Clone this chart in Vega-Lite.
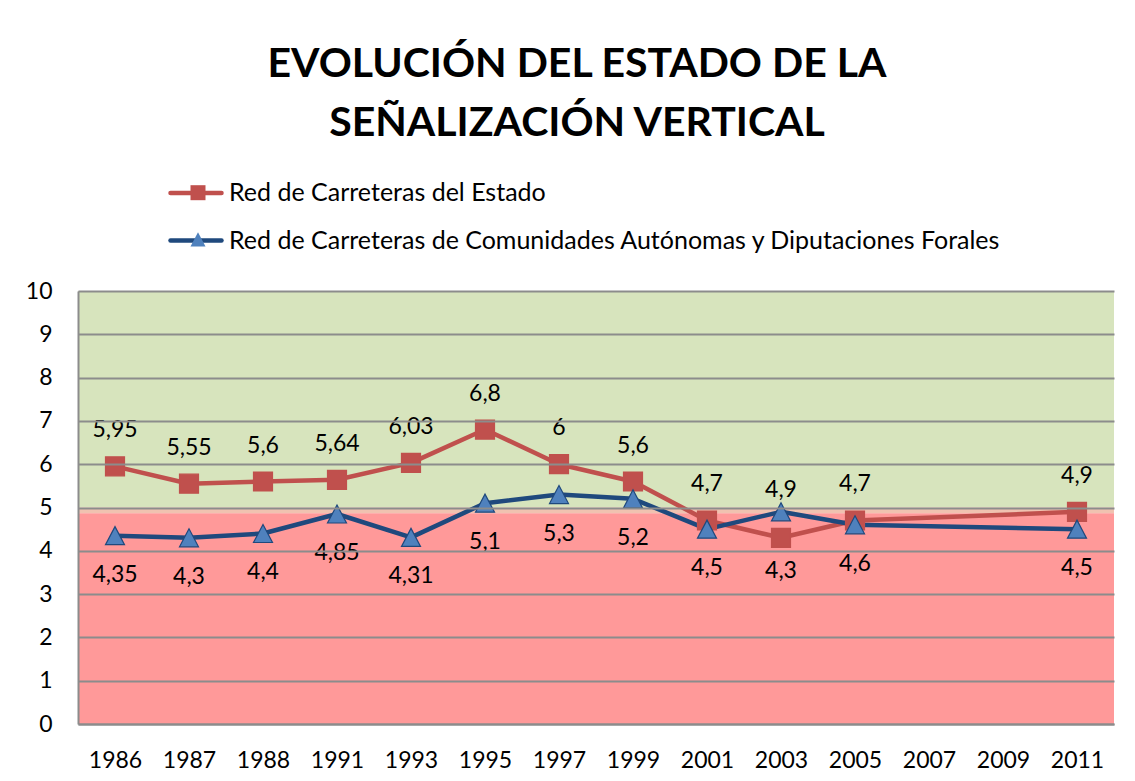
{
  "$schema": "https://vega.github.io/schema/vega-lite/v6.json",
  "autosize": "none",
  "width": 1036,
  "height": 433,
  "padding": {"left": 78, "top": 291, "right": 21, "bottom": 57},
  "background": "#ffffff",
  "config": {
    "font": "Lato",
    "view": {"stroke": null},
    "locale": {"number": {"decimal": ",", "thousands": ".", "grouping": [3], "currency": ["", " €"]}}
  },
  "title": {
    "text": ["EVOLUCIÓN DEL ESTADO DE LA", "SEÑALIZACIÓN VERTICAL"],
    "font": "Lato",
    "fontSize": 41,
    "fontWeight": "bold",
    "color": "#000000",
    "anchor": "middle",
    "frame": "group",
    "lineHeight": 59,
    "offset": 20,
    "dx": -19
  },
  "datasets": {
    "franjas": [
      {"desde": 5, "hasta": 10, "franja": "Aprobado"},
      {"desde": 4.87, "hasta": 5, "franja": "Límite"},
      {"desde": 0, "hasta": 4.87, "franja": "Suspenso"}
    ],
    "valores": [
      {"anio": "1986", "serie": "Red de Carreteras del Estado", "valor": 5.95},
      {"anio": "1987", "serie": "Red de Carreteras del Estado", "valor": 5.55},
      {"anio": "1988", "serie": "Red de Carreteras del Estado", "valor": 5.6},
      {"anio": "1991", "serie": "Red de Carreteras del Estado", "valor": 5.64},
      {"anio": "1993", "serie": "Red de Carreteras del Estado", "valor": 6.03},
      {"anio": "1995", "serie": "Red de Carreteras del Estado", "valor": 6.8},
      {"anio": "1997", "serie": "Red de Carreteras del Estado", "valor": 6},
      {"anio": "1999", "serie": "Red de Carreteras del Estado", "valor": 5.6},
      {"anio": "2001", "serie": "Red de Carreteras del Estado", "valor": 4.7},
      {"anio": "2003", "serie": "Red de Carreteras del Estado", "valor": 4.3},
      {"anio": "2005", "serie": "Red de Carreteras del Estado", "valor": 4.7},
      {"anio": "2011", "serie": "Red de Carreteras del Estado", "valor": 4.9},
      {"anio": "1986", "serie": "Red de Carreteras de Comunidades Autónomas y Diputaciones Forales", "valor": 4.35},
      {"anio": "1987", "serie": "Red de Carreteras de Comunidades Autónomas y Diputaciones Forales", "valor": 4.3},
      {"anio": "1988", "serie": "Red de Carreteras de Comunidades Autónomas y Diputaciones Forales", "valor": 4.4},
      {"anio": "1991", "serie": "Red de Carreteras de Comunidades Autónomas y Diputaciones Forales", "valor": 4.85},
      {"anio": "1993", "serie": "Red de Carreteras de Comunidades Autónomas y Diputaciones Forales", "valor": 4.31},
      {"anio": "1995", "serie": "Red de Carreteras de Comunidades Autónomas y Diputaciones Forales", "valor": 5.1},
      {"anio": "1997", "serie": "Red de Carreteras de Comunidades Autónomas y Diputaciones Forales", "valor": 5.3},
      {"anio": "1999", "serie": "Red de Carreteras de Comunidades Autónomas y Diputaciones Forales", "valor": 5.2},
      {"anio": "2001", "serie": "Red de Carreteras de Comunidades Autónomas y Diputaciones Forales", "valor": 4.5},
      {"anio": "2003", "serie": "Red de Carreteras de Comunidades Autónomas y Diputaciones Forales", "valor": 4.9},
      {"anio": "2005", "serie": "Red de Carreteras de Comunidades Autónomas y Diputaciones Forales", "valor": 4.6},
      {"anio": "2011", "serie": "Red de Carreteras de Comunidades Autónomas y Diputaciones Forales", "valor": 4.5}
    ]
  },
  "layer": [
    {
      "data": {"name": "franjas"},
      "mark": {"type": "rect"},
      "encoding": {
        "y": {
          "field": "desde", "type": "quantitative",
          "scale": {"domain": [0, 10], "nice": false, "zero": true},
          "axis": {
            "title": null, "values": [0, 1, 2, 3, 4, 5, 6, 7, 8, 9, 10],
            "grid": true, "gridColor": "#8c8c8c", "gridWidth": 2,
            "domain": true, "domainColor": "#8c8c8c", "domainWidth": 2,
            "ticks": false, "tickSize": 0,
            "labelFont": "Lato", "labelFontSize": 23, "labelColor": "#000000",
            "labelPadding": 26, "zindex": 1
          }
        },
        "y2": {"field": "hasta"},
        "color": {
          "field": "franja", "type": "nominal",
          "scale": {"domain": ["Aprobado", "Límite", "Suspenso"], "range": ["#d7e4bd", "#f0c2b0", "#ff9999"]},
          "legend": null
        }
      }
    },
    {
      "data": {"name": "valores"},
      "mark": {"type": "line", "strokeWidth": 4.5, "strokeJoin": "round", "strokeCap": "round"},
      "encoding": {
        "x": {
          "field": "anio", "type": "ordinal",
          "scale": {"type": "point", "domain": ["1986", "1987", "1988", "1991", "1993", "1995", "1997", "1999", "2001", "2003", "2005", "2007", "2009", "2011"], "padding": 0.5},
          "axis": {
            "title": null, "labelAngle": 0, "grid": false,
            "ticks": false, "tickSize": 0,
            "domain": true, "domainColor": "#8c8c8c", "domainWidth": 2,
            "labelFont": "Lato", "labelFontSize": 23, "labelColor": "#000000",
            "labelBaseline": "middle", "labelPadding": 36, "zindex": 1
          }
        },
        "y": {"field": "valor", "type": "quantitative"},
        "stroke": {
          "field": "serie", "type": "nominal",
          "scale": {"domain": ["Red de Carreteras del Estado", "Red de Carreteras de Comunidades Autónomas y Diputaciones Forales"], "range": ["#c0504d", "#1f497d"]},
          "legend": {
            "title": null, "orient": "none", "legendX": 90, "legendY": -126,
            "symbolType": "stroke", "symbolSize": 2601, "symbolStrokeWidth": 4.5,
            "labelFont": "Lato", "labelFontSize": 25, "labelColor": "#000000",
            "labelOffset": 5, "rowPadding": 6.6, "labelLimit": 1000,
            "encode": {"symbols": {"update": {"strokeCap": {"value": "round"}}}}
          }
        }
      }
    },
    {
      "data": {"name": "valores"},
      "mark": {"type": "point", "filled": true, "size": 361, "strokeWidth": 1.2, "opacity": 1},
      "encoding": {
        "x": {"field": "anio", "type": "ordinal"},
        "y": {"field": "valor", "type": "quantitative"},
        "stroke": {
          "field": "serie", "type": "nominal",
          "scale": {"domain": ["Red de Carreteras del Estado", "Red de Carreteras de Comunidades Autónomas y Diputaciones Forales"]}
        },
        "fill": {
          "field": "serie", "type": "nominal", "sort": null,
          "scale": {"range": ["#c0504d", "#4f81bd"]}
        },
        "shape": {
          "field": "serie", "type": "nominal", "sort": null,
          "scale": {"range": ["square", "M0,-0.95L1,0.95L-1,0.95Z"]},
          "legend": {
            "title": null, "orient": "none", "legendX": 108, "legendY": -110.3,
            "symbolSize": 225, "labelExpr": "''", "labelFontSize": 24,
            "rowPadding": 22.6,
            "encode": {"symbols": {"update": {"stroke": {"scale": "stroke", "field": "value"}, "strokeWidth": {"value": 1.2}}}}
          }
        }
      }
    },
    {
      "data": {"name": "valores"},
      "transform": [{"filter": "datum.serie === 'Red de Carreteras del Estado' && datum.anio !== '2003'"}],
      "mark": {"type": "text", "dy": -36, "fontSize": 23, "font": "Lato", "color": "#000000", "baseline": "middle"},
      "encoding": {
        "x": {"field": "anio", "type": "ordinal"},
        "y": {"field": "valor", "type": "quantitative"},
        "text": {"field": "valor", "type": "quantitative", "format": ".3~g"}
      }
    },
    {
      "data": {"name": "valores"},
      "transform": [{"filter": "datum.serie !== 'Red de Carreteras del Estado' && datum.anio !== '2003'"}],
      "mark": {"type": "text", "dy": 39, "fontSize": 23, "font": "Lato", "color": "#000000", "baseline": "middle"},
      "encoding": {
        "x": {"field": "anio", "type": "ordinal"},
        "y": {"field": "valor", "type": "quantitative"},
        "text": {"field": "valor", "type": "quantitative", "format": ".3~g"}
      }
    },
    {
      "data": {"name": "valores"},
      "transform": [{"filter": "datum.serie !== 'Red de Carreteras del Estado' && datum.anio === '2003'"}],
      "mark": {"type": "text", "dy": -22, "fontSize": 23, "font": "Lato", "color": "#000000", "baseline": "middle"},
      "encoding": {
        "x": {"field": "anio", "type": "ordinal"},
        "y": {"field": "valor", "type": "quantitative"},
        "text": {"field": "valor", "type": "quantitative", "format": ".3~g"}
      }
    },
    {
      "data": {"name": "valores"},
      "transform": [{"filter": "datum.serie === 'Red de Carreteras del Estado' && datum.anio === '2003'"}],
      "mark": {"type": "text", "dy": 33, "fontSize": 23, "font": "Lato", "color": "#000000", "baseline": "middle"},
      "encoding": {
        "x": {"field": "anio", "type": "ordinal"},
        "y": {"field": "valor", "type": "quantitative"},
        "text": {"field": "valor", "type": "quantitative", "format": ".3~g"}
      }
    }
  ]
}
